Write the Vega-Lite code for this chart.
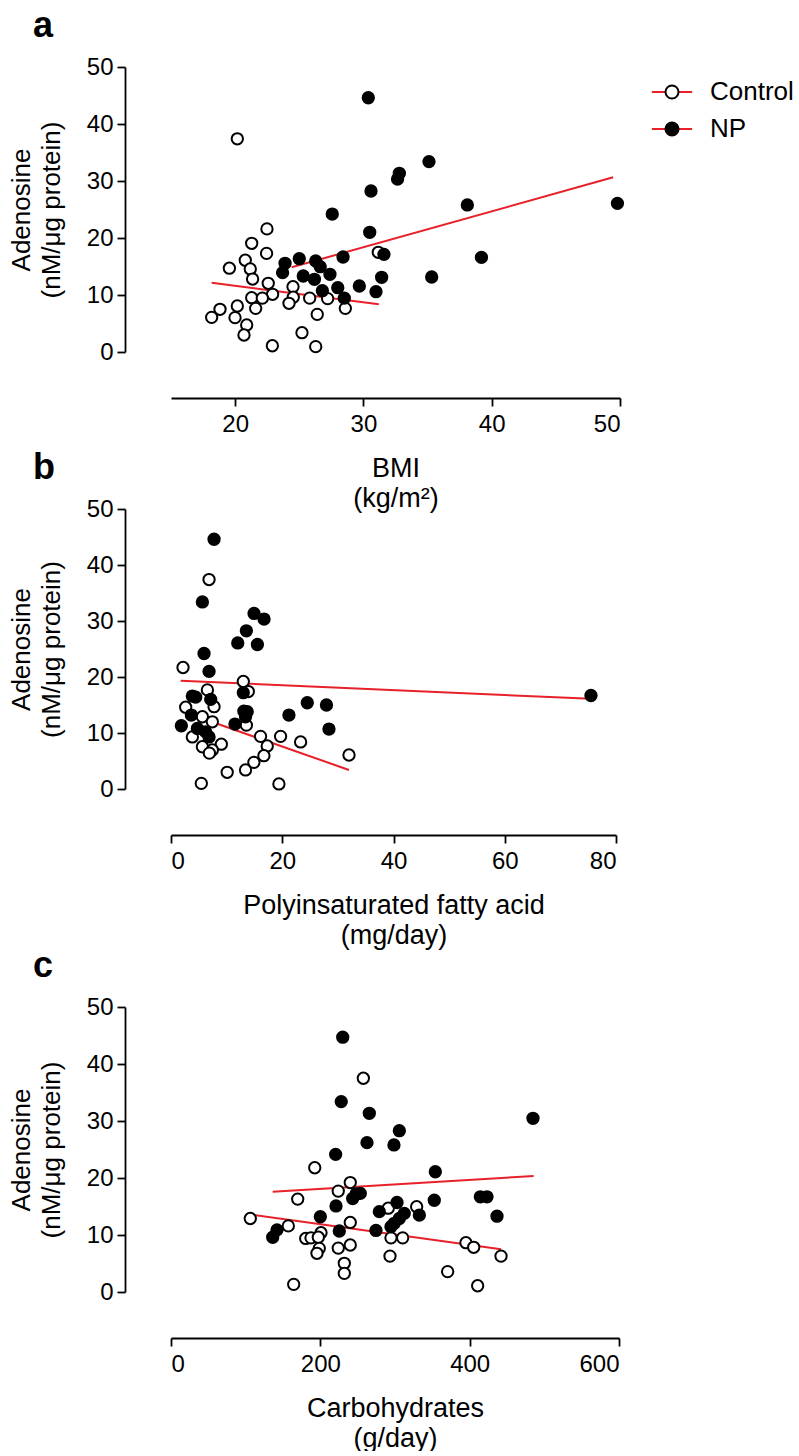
{
  "$schema": "https://vega.github.io/schema/vega-lite/v6.json",
  "background": "white",
  "padding": {"left": 8, "top": 8, "right": 0, "bottom": 0},
  "bounds": "flush",
  "spacing": 30,
  "datasets": {
    "pa": [
      {"g": "Control", "x": 20.17, "y": 37.4}, {"g": "Control", "x": 22.48, "y": 21.6}, {"g": "Control", "x": 21.29, "y": 19.07},
      {"g": "Control", "x": 22.45, "y": 17.3}, {"g": "Control", "x": 20.79, "y": 16.1}, {"g": "Control", "x": 19.55, "y": 14.7},
      {"g": "Control", "x": 21.18, "y": 14.56}, {"g": "Control", "x": 21.36, "y": 12.8}, {"g": "Control", "x": 22.58, "y": 12.05},
      {"g": "Control", "x": 24.51, "y": 11.46}, {"g": "Control", "x": 22.92, "y": 10.12}, {"g": "Control", "x": 21.29, "y": 9.53},
      {"g": "Control", "x": 22.12, "y": 9.45}, {"g": "Control", "x": 24.53, "y": 9.6}, {"g": "Control", "x": 25.81, "y": 9.45},
      {"g": "Control", "x": 27.21, "y": 9.36}, {"g": "Control", "x": 24.2, "y": 8.54}, {"g": "Control", "x": 20.17, "y": 8.07},
      {"g": "Control", "x": 21.6, "y": 7.66}, {"g": "Control", "x": 28.59, "y": 7.66}, {"g": "Control", "x": 18.82, "y": 7.49},
      {"g": "Control", "x": 18.17, "y": 6.08}, {"g": "Control", "x": 19.99, "y": 6.03}, {"g": "Control", "x": 26.4, "y": 6.6},
      {"g": "Control", "x": 20.9, "y": 4.74}, {"g": "Control", "x": 20.69, "y": 2.98}, {"g": "Control", "x": 25.21, "y": 3.39},
      {"g": "Control", "x": 22.9, "y": 1.1}, {"g": "Control", "x": 26.28, "y": 0.94}, {"g": "Control", "x": 31.16, "y": 17.49},
      {"g": "NP", "x": 30.38, "y": 44.6}, {"g": "NP", "x": 35.11, "y": 33.4}, {"g": "NP", "x": 32.8, "y": 31.35},
      {"g": "NP", "x": 32.66, "y": 30.35}, {"g": "NP", "x": 30.59, "y": 28.25}, {"g": "NP", "x": 27.57, "y": 24.2},
      {"g": "NP", "x": 30.49, "y": 21.0}, {"g": "NP", "x": 31.6, "y": 17.13}, {"g": "NP", "x": 28.41, "y": 16.67},
      {"g": "NP", "x": 25.0, "y": 16.37}, {"g": "NP", "x": 26.28, "y": 15.96}, {"g": "NP", "x": 23.89, "y": 15.56},
      {"g": "NP", "x": 26.63, "y": 14.97}, {"g": "NP", "x": 23.7, "y": 13.92}, {"g": "NP", "x": 27.39, "y": 13.63},
      {"g": "NP", "x": 25.31, "y": 13.33}, {"g": "NP", "x": 26.18, "y": 12.75}, {"g": "NP", "x": 31.42, "y": 13.1},
      {"g": "NP", "x": 29.68, "y": 11.58}, {"g": "NP", "x": 28.0, "y": 11.28}, {"g": "NP", "x": 26.8, "y": 10.76},
      {"g": "NP", "x": 30.98, "y": 10.58}, {"g": "NP", "x": 28.51, "y": 9.45}, {"g": "NP", "x": 38.1, "y": 25.8},
      {"g": "NP", "x": 49.8, "y": 26.08}, {"g": "NP", "x": 39.2, "y": 16.6}, {"g": "NP", "x": 35.32, "y": 13.16}
    ],
    "la": [
      {"line": "Control fit", "x": 18.17, "y": 12.16}, {"line": "Control fit", "x": 31.2, "y": 8.37},
      {"line": "NP fit", "x": 24.4, "y": 14.86}, {"line": "NP fit", "x": 49.47, "y": 30.65}
    ],
    "pb": [
      {"g": "Control", "x": 6.84, "y": 37.4}, {"g": "Control", "x": 2.16, "y": 21.7}, {"g": "Control", "x": 13.0, "y": 19.2},
      {"g": "Control", "x": 13.9, "y": 17.4}, {"g": "Control", "x": 6.54, "y": 17.7}, {"g": "Control", "x": 2.64, "y": 14.6},
      {"g": "Control", "x": 7.74, "y": 14.7}, {"g": "Control", "x": 5.64, "y": 12.9}, {"g": "Control", "x": 7.43, "y": 12.0},
      {"g": "Control", "x": 13.55, "y": 11.4}, {"g": "Control", "x": 3.84, "y": 9.3}, {"g": "Control", "x": 16.1, "y": 9.4},
      {"g": "Control", "x": 19.7, "y": 9.4}, {"g": "Control", "x": 23.3, "y": 8.4}, {"g": "Control", "x": 5.64, "y": 7.55},
      {"g": "Control", "x": 9.05, "y": 8.0}, {"g": "Control", "x": 7.43, "y": 6.96}, {"g": "Control", "x": 6.9, "y": 6.4},
      {"g": "Control", "x": 17.3, "y": 7.68}, {"g": "Control", "x": 16.7, "y": 5.95}, {"g": "Control", "x": 14.9, "y": 4.76},
      {"g": "Control", "x": 13.4, "y": 3.4}, {"g": "Control", "x": 10.1, "y": 2.98}, {"g": "Control", "x": 32.0, "y": 6.07},
      {"g": "Control", "x": 5.45, "y": 1.0}, {"g": "Control", "x": 19.4, "y": 0.9},
      {"g": "NP", "x": 7.74, "y": 44.6}, {"g": "NP", "x": 5.64, "y": 33.4}, {"g": "NP", "x": 14.93, "y": 31.35},
      {"g": "NP", "x": 16.73, "y": 30.35}, {"g": "NP", "x": 13.55, "y": 28.25}, {"g": "NP", "x": 12.0, "y": 26.08},
      {"g": "NP", "x": 15.53, "y": 25.8}, {"g": "NP", "x": 5.94, "y": 24.2}, {"g": "NP", "x": 6.84, "y": 21.0},
      {"g": "NP", "x": 3.84, "y": 16.6}, {"g": "NP", "x": 4.44, "y": 16.4}, {"g": "NP", "x": 7.14, "y": 16.0},
      {"g": "NP", "x": 13.0, "y": 17.2}, {"g": "NP", "x": 13.1, "y": 13.9}, {"g": "NP", "x": 13.7, "y": 13.8},
      {"g": "NP", "x": 13.4, "y": 12.9}, {"g": "NP", "x": 3.66, "y": 13.2}, {"g": "NP", "x": 24.5, "y": 15.4},
      {"g": "NP", "x": 27.95, "y": 15.0}, {"g": "NP", "x": 28.4, "y": 10.7}, {"g": "NP", "x": 21.2, "y": 13.2},
      {"g": "NP", "x": 11.5, "y": 11.6}, {"g": "NP", "x": 1.86, "y": 11.3}, {"g": "NP", "x": 4.74, "y": 10.8},
      {"g": "NP", "x": 6.24, "y": 10.2}, {"g": "NP", "x": 6.84, "y": 9.3}, {"g": "NP", "x": 75.5, "y": 16.7}
    ],
    "lb": [
      {"line": "Control fit", "x": 4.74, "y": 12.9}, {"line": "Control fit", "x": 32.0, "y": 3.4},
      {"line": "NP fit", "x": 1.74, "y": 19.35}, {"line": "NP fit", "x": 75.5, "y": 16.1}
    ],
    "pc": [
      {"g": "Control", "x": 257.6, "y": 37.5}, {"g": "Control", "x": 192.5, "y": 21.8}, {"g": "Control", "x": 240.1, "y": 19.2},
      {"g": "Control", "x": 224.0, "y": 17.7}, {"g": "Control", "x": 169.7, "y": 16.3}, {"g": "Control", "x": 291.0, "y": 14.7},
      {"g": "Control", "x": 329.0, "y": 14.97}, {"g": "Control", "x": 106.2, "y": 12.9}, {"g": "Control", "x": 157.1, "y": 11.6},
      {"g": "Control", "x": 240.1, "y": 12.2}, {"g": "Control", "x": 200.9, "y": 10.4}, {"g": "Control", "x": 180.4, "y": 9.4},
      {"g": "Control", "x": 187.5, "y": 9.5}, {"g": "Control", "x": 197.3, "y": 9.6}, {"g": "Control", "x": 294.6, "y": 9.5},
      {"g": "Control", "x": 310.3, "y": 9.5}, {"g": "Control", "x": 395.0, "y": 8.65}, {"g": "Control", "x": 405.4, "y": 7.84},
      {"g": "Control", "x": 198.6, "y": 7.66}, {"g": "Control", "x": 195.5, "y": 6.79}, {"g": "Control", "x": 224.0, "y": 7.7},
      {"g": "Control", "x": 240.1, "y": 8.25}, {"g": "Control", "x": 293.3, "y": 6.3}, {"g": "Control", "x": 442.0, "y": 6.3},
      {"g": "Control", "x": 232.1, "y": 5.03}, {"g": "Control", "x": 232.1, "y": 3.27}, {"g": "Control", "x": 370.5, "y": 3.57},
      {"g": "Control", "x": 164.3, "y": 1.34}, {"g": "Control", "x": 410.7, "y": 1.1},
      {"g": "NP", "x": 230.0, "y": 44.7}, {"g": "NP", "x": 228.0, "y": 33.4}, {"g": "NP", "x": 265.6, "y": 31.35},
      {"g": "NP", "x": 305.8, "y": 28.3}, {"g": "NP", "x": 262.5, "y": 26.2}, {"g": "NP", "x": 298.6, "y": 25.8},
      {"g": "NP", "x": 220.5, "y": 24.15}, {"g": "NP", "x": 484.8, "y": 30.47}, {"g": "NP", "x": 354.0, "y": 21.1},
      {"g": "NP", "x": 414.3, "y": 16.7}, {"g": "NP", "x": 423.2, "y": 16.7}, {"g": "NP", "x": 352.6, "y": 16.1},
      {"g": "NP", "x": 436.6, "y": 13.3}, {"g": "NP", "x": 332.6, "y": 13.5}, {"g": "NP", "x": 247.8, "y": 17.2},
      {"g": "NP", "x": 253.5, "y": 17.3}, {"g": "NP", "x": 243.3, "y": 16.4}, {"g": "NP", "x": 221.0, "y": 15.1},
      {"g": "NP", "x": 200.0, "y": 13.2}, {"g": "NP", "x": 302.7, "y": 15.7}, {"g": "NP", "x": 279.0, "y": 14.1},
      {"g": "NP", "x": 312.4, "y": 13.8}, {"g": "NP", "x": 305.8, "y": 12.9}, {"g": "NP", "x": 299.0, "y": 12.05},
      {"g": "NP", "x": 294.6, "y": 11.46}, {"g": "NP", "x": 225.4, "y": 10.7}, {"g": "NP", "x": 274.5, "y": 10.8},
      {"g": "NP", "x": 142.0, "y": 10.9}, {"g": "NP", "x": 136.2, "y": 9.6}
    ],
    "lc": [
      {"line": "Control fit", "x": 106.2, "y": 13.6}, {"line": "Control fit", "x": 442.0, "y": 7.5},
      {"line": "NP fit", "x": 136.2, "y": 17.6}, {"line": "NP fit", "x": 485.7, "y": 20.35}
    ]
  },
  "config": {
    "font": "Liberation Sans",
    "view": {"stroke": null},
    "axis": {
      "domainColor": "black", "domainWidth": 1.8, "tickColor": "black", "tickWidth": 1.8, "tickSize": 8,
      "labelFont": "Liberation Sans", "labelFontSize": 24, "labelColor": "black",
      "titleFont": "Liberation Sans", "titleFontSize": 27, "titleFontWeight": "normal", "titleColor": "black",
      "grid": false, "offset": 46
    },
    "axisX": {"labelPadding": 6, "titlePadding": 19, "titleLineHeight": 30},
    "axisY": {"labelPadding": 4, "titlePadding": 22, "titleFontSize": 26, "titleLineHeight": 30},
    "title": {"font": "Liberation Sans", "fontSize": 36, "fontWeight": "bold", "color": "black", "anchor": "start", "frame": "group", "dx": -138, "offset": 10}
  },
  "vconcat": [
    {
      "title": {"text": "a"},
      "width": 449,
      "height": 285,
      "layer": [
        {
          "data": {"name": "la"},
          "mark": {"type": "line", "strokeWidth": 2},
          "encoding": {
            "x": {"field": "x", "type": "quantitative", "title": ["BMI", "(kg/m²)"], "scale": {"domain": [15, 50], "nice": false, "zero": false}, "axis": {"values": [20, 30, 40, 50]}},
            "y": {"field": "y", "type": "quantitative", "title": ["Adenosine", "(nM/μg protein)"], "scale": {"domain": [0, 50], "nice": false}, "axis": {"values": [0, 10, 20, 30, 40, 50]}},
            "stroke": {"field": "line", "type": "nominal", "scale": {"domain": ["Control fit", "NP fit"], "range": ["#e8202a", "#e8202a"]},
              "legend": {"orient": "none", "legendX": 488, "legendY": 12, "title": null, "symbolType": "M-3.1,0H3.1", "symbolSize": 169, "symbolStrokeWidth": 2, "labelFont": "Liberation Sans", "labelFontSize": 26, "labelColor": "black", "labelOffset": 25, "rowPadding": 11, "labelExpr": "''", "labelOpacity": 0, "zindex": 0}}
          }
        },
        {
          "data": {"name": "pa"},
          "mark": {"type": "point", "shape": "circle", "size": 128, "filled": true, "stroke": "black", "strokeWidth": 2, "opacity": 1},
          "encoding": {
            "x": {"field": "x", "type": "quantitative", "title": ["BMI", "(kg/m²)"]},
            "y": {"field": "y", "type": "quantitative", "title": ["Adenosine", "(nM/μg protein)"]},
            "fill": {"field": "g", "type": "nominal", "scale": {"domain": ["Control", "NP"], "range": ["white", "black"]},
              "legend": {"orient": "none", "legendX": 488, "legendY": 12, "title": null, "symbolType": "circle", "symbolSize": 169, "symbolStrokeColor": "black", "symbolStrokeWidth": 2, "labelFont": "Liberation Sans", "labelFontSize": 26, "labelColor": "black", "labelOffset": 25, "rowPadding": 11, "zindex": 1}}
          }
        }
      ]
    },
    {
      "width": 449,
      "height": 97,
      "data": {"values": []},
      "mark": {"type": "point"}
    },
    {
      "title": {"text": "b"},
      "width": 445,
      "height": 280,
      "layer": [
        {
          "data": {"name": "lb"},
          "mark": {"type": "line", "strokeWidth": 2, "color": "#e8202a"},
          "encoding": {
            "x": {"field": "x", "type": "quantitative", "title": ["Polyinsaturated fatty acid", "(mg/day)"], "scale": {"domain": [0, 80], "nice": false}, "axis": {"values": [0, 20, 40, 60, 80]}},
            "y": {"field": "y", "type": "quantitative", "title": ["Adenosine", "(nM/μg protein)"], "scale": {"domain": [0, 50], "nice": false}, "axis": {"values": [0, 10, 20, 30, 40, 50]}},
            "detail": {"field": "line", "type": "nominal"}
          }
        },
        {
          "data": {"name": "pb"},
          "mark": {"type": "point", "shape": "circle", "size": 128, "filled": true, "stroke": "black", "strokeWidth": 2, "opacity": 1},
          "encoding": {
            "x": {"field": "x", "type": "quantitative", "title": ["Polyinsaturated fatty acid", "(mg/day)"]},
            "y": {"field": "y", "type": "quantitative", "title": ["Adenosine", "(nM/μg protein)"]},
            "fill": {"field": "g", "type": "nominal", "scale": {"domain": ["Control", "NP"], "range": ["white", "black"]}, "legend": null}
          }
        }
      ]
    },
    {
      "width": 449,
      "height": 158,
      "data": {"values": []},
      "mark": {"type": "point"}
    },
    {
      "title": {"text": "c"},
      "width": 448,
      "height": 285,
      "layer": [
        {
          "data": {"name": "lc"},
          "mark": {"type": "line", "strokeWidth": 2, "color": "#e8202a"},
          "encoding": {
            "x": {"field": "x", "type": "quantitative", "title": ["Carbohydrates", "(g/day)"], "scale": {"domain": [0, 600], "nice": false}, "axis": {"values": [0, 200, 400, 600]}},
            "y": {"field": "y", "type": "quantitative", "title": ["Adenosine", "(nM/μg protein)"], "scale": {"domain": [0, 50], "nice": false}, "axis": {"values": [0, 10, 20, 30, 40, 50]}},
            "detail": {"field": "line", "type": "nominal"}
          }
        },
        {
          "data": {"name": "pc"},
          "mark": {"type": "point", "shape": "circle", "size": 128, "filled": true, "stroke": "black", "strokeWidth": 2, "opacity": 1},
          "encoding": {
            "x": {"field": "x", "type": "quantitative", "title": ["Carbohydrates", "(g/day)"]},
            "y": {"field": "y", "type": "quantitative", "title": ["Adenosine", "(nM/μg protein)"]},
            "fill": {"field": "g", "type": "nominal", "scale": {"domain": ["Control", "NP"], "range": ["white", "black"]}, "legend": null}
          }
        }
      ]
    }
  ]
}
